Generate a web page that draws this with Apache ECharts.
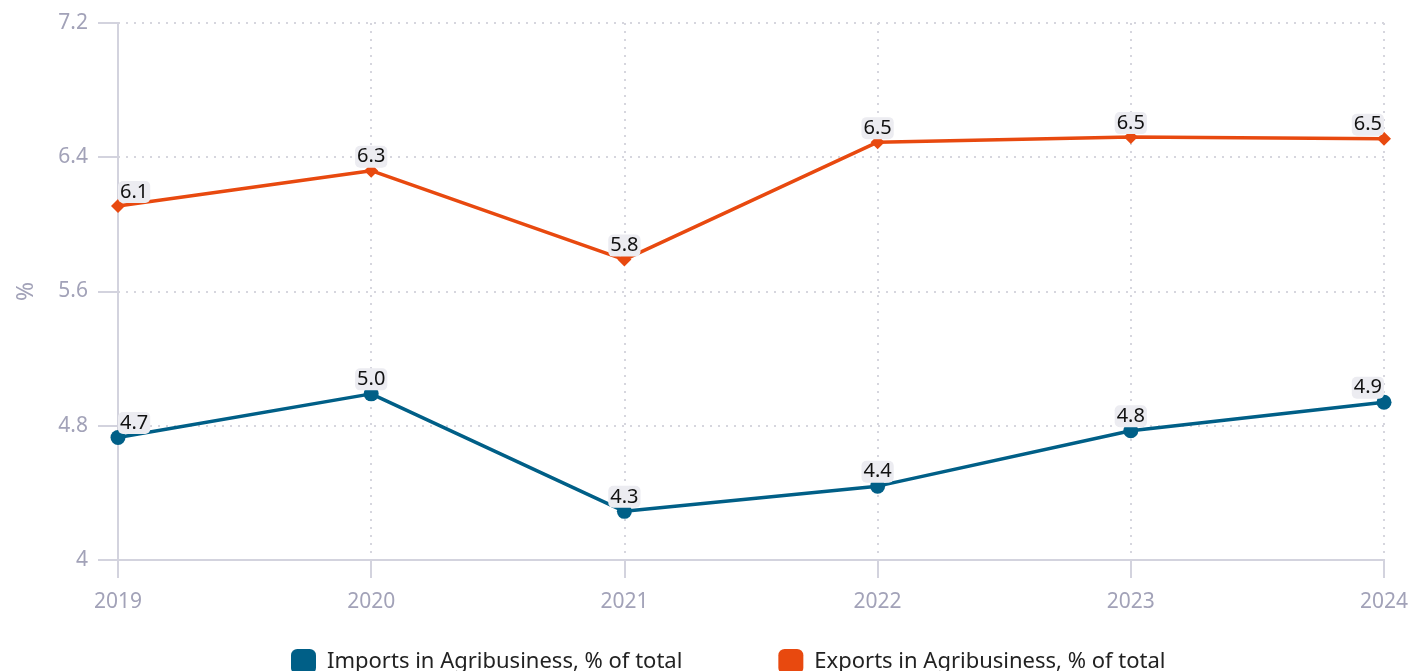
<!DOCTYPE html>
<html><head><meta charset="utf-8">
<script src="https://cdn.jsdelivr.net/npm/echarts@6/dist/echarts.min.js"></script>
<style>html,body{margin:0;padding:0;background:#fff}#c{width:1412px;height:671px}</style>
</head><body><div id="c"></div>
<script>
const years = ['2019','2020','2021','2022','2023','2024'];
const imports = [4.73, 4.99, 4.29, 4.44, 4.77, 4.94];
const exports = [6.11, 6.32, 5.79, 6.49, 6.52, 6.51];
const yTicks = [4, 4.8, 5.6, 6.4, 7.2];
const seriesNames = ['Imports in Agribusiness, % of total', 'Exports in Agribusiness, % of total'];

const FONT = '"Noto Sans", "Open Sans", sans-serif';
function items(arr) {
  return arr.map((v, i) => {
    const it = { value: v };
    if (i === 0) it.label = { align: 'left', offset: [0, 0] };
    if (i === arr.length - 1) it.label = { align: 'right', offset: [0, 0] };
    return it;
  });
}
const labelStyle = {
  show: true, position: 'top', distance: -4,
  formatter: p => p.value.toFixed(1),
  color: '#111', fontSize: 20, fontFamily: FONT, lineHeight: 22,
  backgroundColor: '#ececf1', borderRadius: 5, padding: [0, 2, 0, 2]
};
const chart = echarts.init(document.getElementById('c'), null, { renderer: 'canvas' });
chart.setOption({
  animation: false,
  textStyle: { fontFamily: FONT },
  grid: { left: 118, right: 28, top: 23, bottom: 111 },
  legend: {
    left: 286, top: 644, itemGap: 96, itemWidth: 25, itemHeight: 25,
    icon: 'roundRect',
    textStyle: { fontSize: 22, color: '#222', fontFamily: FONT, padding: [0, 0, 0, 6] },
    data: seriesNames
  },
  xAxis: {
    type: 'category', data: years, boundaryGap: false,
    axisLine: { lineStyle: { color: '#d3d3de', width: 2 } },
    axisTick: { show: true, length: 18, alignWithLabel: true, lineStyle: { color: '#d3d3de', width: 2 } },
    axisLabel: { color: '#a2a2b8', fontSize: 21, margin: 32, fontFamily: FONT },
    splitLine: { show: true, lineStyle: { color: '#d6d6de', type: [2, 6], width: 2 } }
  },
  yAxis: {
    type: 'value', min: yTicks[0], max: yTicks[yTicks.length - 1], interval: 0.8,
    name: '%', nameLocation: 'middle', nameGap: 80, nameRotate: 90,
    nameTextStyle: { color: '#a2a2b8', fontSize: 23, fontFamily: FONT },
    axisLine: { show: true, lineStyle: { color: '#d3d3de', width: 2 } },
    axisTick: { show: true, length: 20, lineStyle: { color: '#d3d3de', width: 2 } },
    axisLabel: { color: '#a2a2b8', fontSize: 21, margin: 30, fontFamily: FONT,
      formatter: v => (Math.round(v * 10) / 10).toString() },
    splitLine: { show: true, lineStyle: { color: '#d6d6de', type: [2, 6], width: 2 } }
  },
  series: [
    {
      name: seriesNames[0], type: 'line', data: items(imports),
      symbol: 'circle', symbolSize: 15, color: '#005f87',
      lineStyle: { width: 3.5, color: '#005f87' },
      label: labelStyle, z: 3
    },
    {
      name: seriesNames[1], type: 'line', data: items(exports),
      symbol: 'diamond', symbolSize: 14, color: '#e8490f',
      lineStyle: { width: 3.5, color: '#e8490f' },
      label: labelStyle, z: 3
    }
  ]
});
</script></body></html>
